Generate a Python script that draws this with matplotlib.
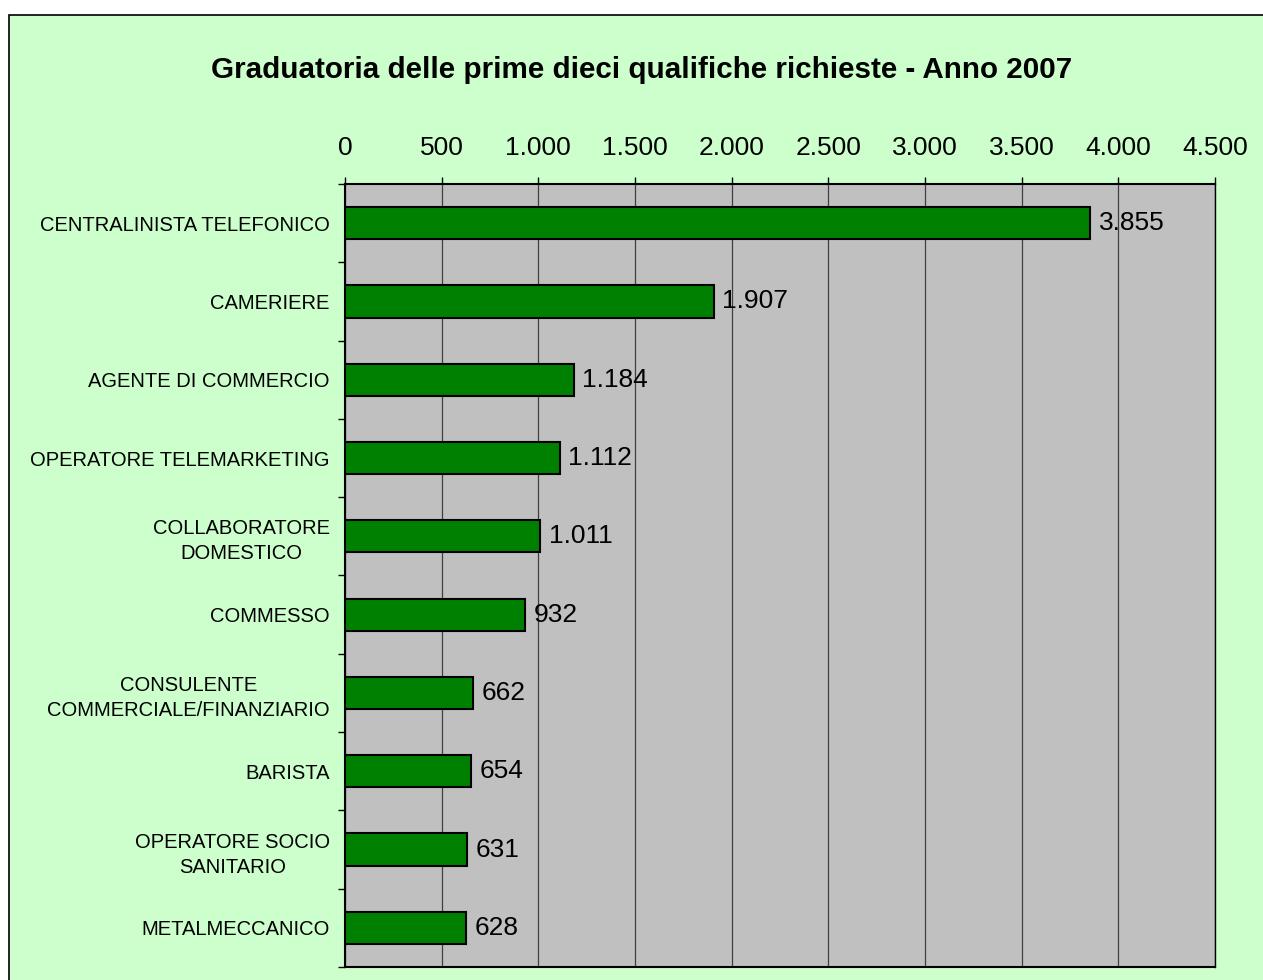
import matplotlib
matplotlib.use("Agg")
import matplotlib.pyplot as plt
import matplotlib.patches as mpatches
from matplotlib.ticker import FuncFormatter, MultipleLocator, FixedLocator

categories = [
    "CENTRALINISTA TELEFONICO",
    "CAMERIERE",
    "AGENTE DI COMMERCIO",
    "OPERATORE TELEMARKETING",
    "COLLABORATORE\nDOMESTICO",
    "COMMESSO",
    "CONSULENTE\nCOMMERCIALE/FINANZIARIO",
    "BARISTA",
    "OPERATORE SOCIO\nSANITARIO",
    "METALMECCANICO",
]
values = [3855, 1907, 1184, 1112, 1011, 932, 662, 654, 631, 628]
title = "Graduatoria delle prime dieci qualifiche richieste - Anno 2007"

plt.rcParams['font.family'] = ['Liberation Sans', 'DejaVu Sans']

W, H = 1263, 980
fig = plt.figure(figsize=(W / 100, H / 100), dpi=100, facecolor='white')

# outer chart frame (cropped at right and bottom)
frame = mpatches.Rectangle((9 / W, -0.05), 1.2, 1 - 15 / H + 0.05,
                           transform=fig.transFigure, facecolor='#CCFFCC',
                           edgecolor='black', linewidth=1.2, zorder=-10)
fig.patches.append(frame)

ax = fig.add_axes([345 / W, 1 - 967 / H, (1215 - 345) / W, (967 - 184) / H])
ax.set_zorder(5)
ax.set_facecolor('#C0C0C0')

n = len(categories)
ypos = list(range(n))
ax.barh(ypos, values, height=0.41, color='#008000', edgecolor='black',
        linewidth=1.5, zorder=3)

ax.set_xlim(0, 4500)
ax.set_ylim(n - 0.5, -0.5)

ax.xaxis.set_major_locator(MultipleLocator(500))
ax.xaxis.set_major_formatter(FuncFormatter(lambda v, p: f"{int(v):,}".replace(",", ".")))
ax.xaxis.tick_top()
ax.tick_params(axis='x', direction='out', length=5, width=1, pad=12,
               labelsize=19, colors='black')
ax.grid(axis='x', color='#404040', linewidth=0.9, zorder=1)
ax.set_axisbelow(True)

ax.set_yticks(ypos)
ax.set_yticklabels(categories, fontsize=14.5, multialignment='center',
                   linespacing=1.4)
ax.yaxis.set_minor_locator(FixedLocator([i + 0.5 for i in range(-1, n)]))
ax.tick_params(axis='y', which='major', length=0, pad=11)
ax.tick_params(axis='y', which='minor', direction='out', length=5, width=1)

for s in ax.spines.values():
    s.set_color('black')
    s.set_linewidth(1)
ax.spines['left'].set_linewidth(1.5)
ax.spines['bottom'].set_linewidth(1.5)
ax.spines['top'].set_linewidth(1.5)

for y, v in zip(ypos, values):
    ax.annotate(f"{v:,}".replace(",", "."), xy=(v, y), xytext=(6, 0),
                textcoords='offset points', va='center', ha='left',
                fontsize=19, zorder=4)

fig.text(642 / W, 1 - 70 / H, title, ha='center', va='center',
         fontsize=21.3, fontweight='bold')

fig.savefig('out.png', dpi=100, facecolor=fig.get_facecolor())
